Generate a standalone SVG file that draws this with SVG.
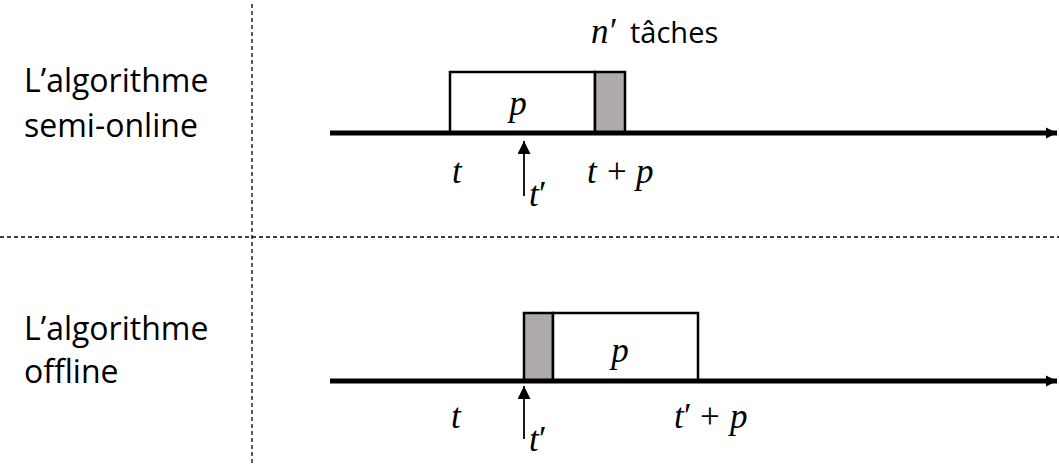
<svg xmlns="http://www.w3.org/2000/svg" width="1059" height="464" viewBox="0 0 1059 464">
<defs>
<style>
.lbl{font-family:"Open Sans","Liberation Sans",sans-serif;font-size:32px;fill:#000}
.sm{font-family:"Open Sans","Liberation Sans",sans-serif;font-size:29px;fill:#000}
.m{font-family:"Liberation Serif","DejaVu Serif",serif;font-style:italic;font-size:35px;fill:#000}
.mr{font-family:"Liberation Serif","DejaVu Serif",serif;font-size:35px;fill:#000}
.dash{stroke:#000;stroke-width:1.3;stroke-dasharray:4,3;fill:none}
.axis{stroke:#000;stroke-width:5;fill:none}
.box{fill:#fff;stroke:#000;stroke-width:2.5}
.grey{fill:#aeaaaa;stroke:#000;stroke-width:2.5}
.up{stroke:#000;stroke-width:1.8;fill:none}
</style>
<marker id="ah" viewBox="0 0 10 10" refX="10" refY="5" markerWidth="2.2" markerHeight="3" orient="auto" markerUnits="strokeWidth">
<path d="M0,0 L10,5 L0,10 z" fill="#000"/>
</marker>
<marker id="ah2" viewBox="0 0 10 10" refX="10" refY="5" markerWidth="14" markerHeight="13" orient="auto" markerUnits="userSpaceOnUse">
<path d="M0,0 L10,5 L0,10 z" fill="#000"/>
</marker>
</defs>
<rect width="1059" height="464" fill="#fff"/>
<g id="separators">
<line class="dash" x1="252" y1="4" x2="252" y2="464"/>
<line class="dash" x1="0" y1="237" x2="1059" y2="237"/>
</g>
<g id="labels">
<text class="lbl" x="24" y="92">L’algorithme</text>
<text class="lbl" x="24" y="137">semi-online</text>
<text class="lbl" x="24" y="340">L’algorithme</text>
<text class="lbl" x="24" y="383">offline</text>
</g>
<g id="top-tasks">
<rect class="box" x="450" y="72" width="145" height="61"/>
<rect class="grey" x="595" y="72" width="30" height="61"/>
<text class="m" x="518" y="115" text-anchor="middle">p</text>
<text><tspan class="m" x="591" y="43">n</tspan><tspan class="mr" x="610" y="43">′</tspan><tspan class="sm" x="630" y="43">tâches</tspan></text>
</g>
<g id="bottom-tasks">
<rect class="grey" x="524" y="313" width="29" height="68"/>
<rect class="box" x="553" y="313" width="145" height="68"/>
<text class="m" x="620" y="362" text-anchor="middle">p</text>
</g>
<g id="connectors">
<line class="axis" x1="330" y1="133" x2="1057" y2="133" marker-end="url(#ah)"/>
<line class="axis" x1="330" y1="381" x2="1057" y2="381" marker-end="url(#ah)"/>
<line class="up" x1="524" y1="196" x2="524" y2="141" marker-end="url(#ah2)"/>
<line class="up" x1="524" y1="439" x2="524" y2="386" marker-end="url(#ah2)"/>
</g>
<g id="math-labels">
<text class="m" x="452" y="183">t</text>
<text><tspan class="m" x="529" y="206">t</tspan><tspan class="mr" x="539" y="206">′</tspan></text>
<text><tspan class="m" x="587" y="183">t</tspan><tspan class="mr" x="607" y="183">+</tspan><tspan class="m" x="636" y="183">p</tspan></text>
<text class="m" x="451" y="428">t</text>
<text><tspan class="m" x="529" y="451">t</tspan><tspan class="mr" x="539" y="451">′</tspan></text>
<text><tspan class="m" x="674" y="428">t</tspan><tspan class="mr" x="684" y="428">′</tspan><tspan class="mr" x="700" y="428">+</tspan><tspan class="m" x="730" y="428">p</tspan></text>
</g>
</svg>
